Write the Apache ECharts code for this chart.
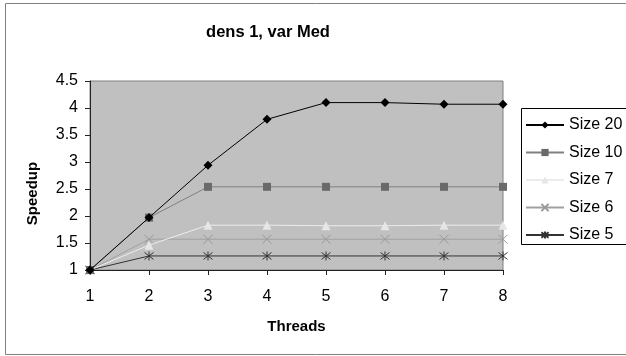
<!DOCTYPE html>
<html>
<head>
<meta charset="utf-8">
<script src="https://cdn.jsdelivr.net/npm/echarts@6/dist/echarts.min.js"></script>
<style>html,body{margin:0;padding:0;background:#fff;}#c{width:626px;height:356px;}</style>
</head>
<body>
<div id="c"></div>
<script>
var threads = ['1','2','3','4','5','6','7','8'];
var size20 = [1, 1.97, 2.94, 3.79, 4.10, 4.10, 4.07, 4.07];
var size10 = [1, 1.97, 2.54, 2.54, 2.54, 2.54, 2.54, 2.54];
var size7  = [1, 1.46, 1.83, 1.83, 1.82, 1.82, 1.83, 1.83];
var size6  = [1, 1.57, 1.57, 1.57, 1.57, 1.57, 1.57, 1.57];
var size5  = [1, 1.26, 1.26, 1.26, 1.26, 1.26, 1.26, 1.26];
var yTicks = { min: 1, max: 4.5, interval: 0.5 };

var xPath = 'path://M0,0L10,10M10,0L0,10';
var starPath = 'path://M0,0L10,10M10,0L0,10M5,-1.5L5,11.5';
var font = 'Arial, "Liberation Sans", sans-serif';

function mk(name, data, lineColor, symbol, symColor, size, opts) {
  var s = {
    name: name, type: 'line', data: data, symbol: symbol, symbolSize: size,
    lineStyle: { color: lineColor, width: 1 },
    itemStyle: { color: symColor },
    emphasis: { disabled: true },
    animation: false
  };
  if (opts) { for (var k in opts) s[k] = opts[k]; }
  return s;
}

var chart = echarts.init(document.getElementById('c'));
chart.setOption({
  animation: false,
  title: {
    text: 'dens 1, var Med', left: 263, top: 19, textAlign: 'center',
    textStyle: { fontFamily: font, fontSize: 16.5, fontWeight: 'bold', color: '#000' }
  },
  graphic: [
    { type: 'rect', shape: { x: 5.5, y: 3.5, width: 700, height: 351 }, style: { fill: 'none', stroke: '#808080', lineWidth: 1 }, z: 0 },
    { type: 'rect', shape: { x: 521.5, y: 108.5, width: 200, height: 136 }, style: { fill: '#fff', stroke: '#000', lineWidth: 1 }, z: 1 }
  ],
  legend: {
    orient: 'vertical', left: 520, top: 112,
    itemWidth: 38, itemHeight: 9, itemGap: 11.5,
    textStyle: { fontFamily: font, fontSize: 16, color: '#000', lineHeight: 16 },
    data: ['Size 20','Size 10','Size 7','Size 6','Size 5'],
    z: 5
  },
  grid: {
    left: 90, right: 123, top: 81, bottom: 86,
    show: true, backgroundColor: '#c0c0c0', borderColor: '#808080', borderWidth: 1
  },
  xAxis: {
    type: 'category', data: threads, boundaryGap: false,
    name: 'Threads', nameLocation: 'middle', nameGap: 49,
    nameTextStyle: { fontFamily: font, fontSize: 15, fontWeight: 'bold', color: '#000' },
    axisLine: { lineStyle: { color: '#222', width: 1 } },
    axisTick: { show: true, length: 5, lineStyle: { color: '#222' } },
    axisLabel: { fontFamily: font, fontSize: 16, color: '#000', margin: 19 },
    splitLine: { show: false }
  },
  yAxis: {
    type: 'value', min: yTicks.min, max: yTicks.max, interval: yTicks.interval,
    name: 'Speedup', nameLocation: 'middle', nameGap: 50, nameRotate: 90,
    nameTextStyle: { fontFamily: font, fontSize: 15, fontWeight: 'bold', color: '#000', padding: [0, 36, 0, 0] },
    axisLine: { show: true, lineStyle: { color: '#222', width: 1 } },
    axisTick: { show: true, length: 5, lineStyle: { color: '#222' } },
    axisLabel: { fontFamily: font, fontSize: 16, color: '#000', margin: 12 },
    splitLine: { show: false }
  },
  series: [
    mk('Size 20', size20, '#000', 'diamond', '#000', 9, { z: 6 }),
    mk('Size 10', size10, '#808080', 'rect', '#6a6a6a', 8, { z: 5 }),
    mk('Size 7', size7, '#ececec', 'triangle', '#e6e6e6', 9, { z: 4 }),
    mk('Size 6', size6, '#a0a0a0', xPath, '#999', 9, { z: 3, itemStyle: { color: '#999', borderColor: '#999', borderWidth: 1 } }),
    mk('Size 5', size5, '#333', starPath, '#333', 9, { z: 2, itemStyle: { color: '#333', borderColor: '#333', borderWidth: 1 } })
  ]
});
</script>
</body>
</html>
